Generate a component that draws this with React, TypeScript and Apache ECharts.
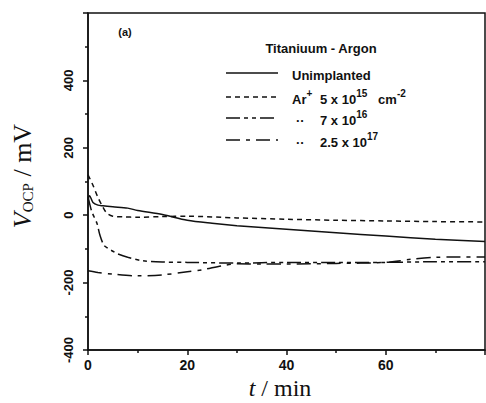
import React, { useEffect, useRef } from "react";
import * as echarts from "echarts";

const tUnimpl = [0, 0.3, 1, 2, 3, 5, 8, 10, 15, 20, 25, 30, 40, 50, 60, 70, 80];
const vUnimpl = [45, 58, 38, 30, 28, 25, 21, 14, 2, -15, -24, -31, -42, -52, -62, -71, -78];

const t5e15 = [0, 1, 2, 3, 3.8, 5, 7, 10, 15, 20, 30, 40, 50, 60, 70, 80];
const v5e15 = [120, 89, 53, 24, 6, -3, -5, -6, -4, -3, -8, -12, -15, -17, -19, -20];

const t7e16 = [0, 0.4, 0.8, 1.8, 2.4, 3.2, 4, 5, 6, 8, 11, 15, 20, 30, 40, 50, 60, 70, 80];
const v7e16 = [55, 30, 9, -24, -59, -89, -98, -107, -115, -125, -135, -139, -140, -142, -140, -140, -140, -138, -138];

const t25e17 = [0, 2, 5, 10, 15, 20, 23, 27, 30, 35, 40, 50, 60, 65, 70, 75, 80];
const v25e17 = [-165, -170, -175, -180, -177, -168, -162, -150, -144, -145, -145, -143, -140, -131, -125, -124, -124];

const xTicks = { min: 0, max: 80, interval: 20 };
const yTicks = { min: -400, max: 600, interval: 200 };

const seriesNames = ["Unimplanted", "Ar+ 5 x 10^15 cm^-2", "7 x 10^16", "2.5 x 10^17"];
const legendPrefix = ["", "{n|Ar}{s|+}", "{n|··}", "{n|··}"];
const legendValue = [
  "{n|Unimplanted}",
  "{n|5 x 10}{s|15}{n|   cm}{s|-2}",
  "{n|7 x 10}{s|16}",
  "{n|2.5 x 10}{s|17}",
];

const pair = (t: number[], v: number[]) => t.map((x, i) => [x, v[i]]);

export default function App() {
  const ref = useRef<HTMLDivElement>(null);
  useEffect(() => {
    if (!ref.current) return;
    const chart = echarts.init(ref.current, null, { renderer: "svg" });
    const lw = 1.5;
    const styles: any[] = ["solid", [5, 4], [14, 4, 4, 4, 4, 4], [14, 6, 4, 6]];
    const datas = [pair(tUnimpl, vUnimpl), pair(t5e15, v5e15), pair(t7e16, v7e16), pair(t25e17, v25e17)];

    const legendFont = { fontFamily: "Liberation Sans", fontWeight: "bold" as const, fontSize: 13, fill: "#111" };
    const legX1 = 226, legX2 = 278;
    const rowsY = [73, 97, 118, 140];
    const rich = {
      n: { fontFamily: "Liberation Sans", fontWeight: "bold", fontSize: 13, fill: "#111", verticalAlign: "bottom", lineHeight: 18 },
      s: { fontFamily: "Liberation Sans", fontWeight: "bold", fontSize: 10, fill: "#111", verticalAlign: "top", lineHeight: 18, padding: [0, 0, 9, 0] },
    };

    const graphic: any[] = [
      { type: "text", x: 125, y: 32, style: { text: "(a)", ...legendFont, fontSize: 11, align: "center", verticalAlign: "middle" } },
      { type: "text", x: 321, y: 48, style: { text: "Titaniuum - Argon", ...legendFont, align: "center", verticalAlign: "middle" } },
    ];
    rowsY.forEach((y, i) => {
      graphic.push({
        type: "line",
        shape: { x1: legX1, y1: y, x2: legX2, y2: y },
        style: { stroke: "#111", lineWidth: lw, lineDash: i === 0 ? null : styles[i] },
      });
      if (legendPrefix[i]) {
        graphic.push({
          type: "text",
          x: i === 1 ? 292 : 296,
          y: y,
          style: { text: legendPrefix[i], rich, verticalAlign: "middle", align: "left" },
        });
      }
      graphic.push({
        type: "text",
        x: i === 0 ? 292 : 320,
        y: y,
        style: { text: legendValue[i], rich, verticalAlign: "middle", align: "left" },
      });
    });
    graphic.push({
      type: "text",
      x: 22,
      y: 176,
      rotation: Math.PI / 2,
      style: {
        text: "{v|V}{o|OCP}{m| / mV}",
        align: "center",
        verticalAlign: "middle",
        rich: {
          v: { fontFamily: "Liberation Serif", fontStyle: "italic", fontSize: 26, fill: "#111", lineHeight: 30 },
          o: { fontFamily: "Liberation Serif", fontSize: 15, fill: "#111", lineHeight: 30, padding: [12, 0, 0, 0] },
          m: { fontFamily: "Liberation Serif", fontSize: 26, fill: "#111", lineHeight: 30 },
        },
      },
    });
    graphic.push({
      type: "text",
      x: 280,
      y: 388,
      style: {
        text: "{t|t}{m| / min}",
        align: "center",
        verticalAlign: "middle",
        rich: {
          t: { fontFamily: "Liberation Serif", fontStyle: "italic", fontSize: 24, fill: "#111", lineHeight: 24 },
          m: { fontFamily: "Liberation Serif", fontSize: 24, fill: "#111", lineHeight: 24 },
        },
      },
    });

    chart.setOption({
      animation: false,
      backgroundColor: "#fff",
      grid: { left: 88, right: 1, top: 13, bottom: 53, show: true, borderColor: "#111", borderWidth: 1.5, backgroundColor: "transparent" },
      xAxis: {
        type: "value",
        ...xTicks,
        axisLine: { show: true, onZero: false, lineStyle: { color: "#111", width: 1.5 } },
        axisTick: { show: true, length: 5, inside: false, lineStyle: { color: "#111", width: 1.5 } },
        minorTick: { show: true, splitNumber: 2, length: 3, lineStyle: { color: "#111", width: 1.5 } },
        splitLine: { show: false },
        axisLabel: { showMaxLabel: false, color: "#111", fontFamily: "Liberation Sans", fontWeight: "bold", fontSize: 14, margin: 8 },
      },
      yAxis: {
        type: "value",
        ...yTicks,
        axisLine: { show: true, onZero: false, lineStyle: { color: "#111", width: 1.5 } },
        axisTick: { show: true, length: 5, lineStyle: { color: "#111", width: 1.5 } },
        minorTick: { show: true, splitNumber: 2, length: 3, lineStyle: { color: "#111", width: 1.5 } },
        splitLine: { show: false },
        axisLabel: { showMaxLabel: false, rotate: 90, color: "#111", fontFamily: "Liberation Sans", fontWeight: "bold", fontSize: 13, margin: 13 },
      },
      series: datas.map((d, i) => ({
        type: "line",
        name: seriesNames[i],
        data: d,
        smooth: 0.3,
        showSymbol: false,
        symbol: "none",
        lineStyle: { color: "#111", width: lw, type: styles[i] },
      })),
      graphic,
    });
    return () => chart.dispose();
  }, []);
  return <div ref={ref} style={{ width: 486, height: 403, position: "absolute", left: 0, top: 0 }} />;
}
